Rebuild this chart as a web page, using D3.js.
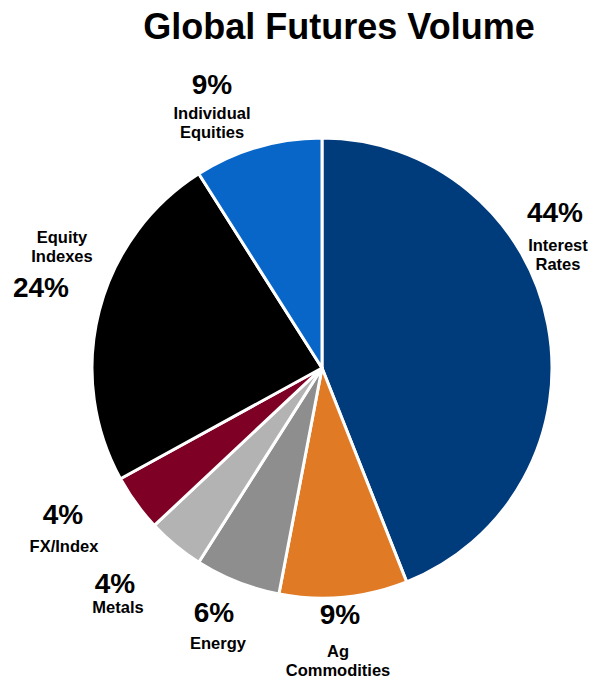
<!DOCTYPE html>
<html>
<head>
<meta charset="utf-8">
<script src="https://cdn.jsdelivr.net/npm/d3@7"></script>
<style>
  body { margin: 0; background: #fff; }
  text { font-family: "Liberation Sans", Arial, sans-serif; font-weight: bold; fill: #000; }
</style>
</head>
<body>
<div id="chart"></div>
<script>
const categories = ['Interest Rates', 'Ag Commodities', 'Energy', 'Metals', 'FX/Index', 'Equity Indexes', 'Individual Equities'];
const shares = [44, 9, 6, 4, 4, 24, 9];
const pctLabels = ['44%', '9%', '6%', '4%', '4%', '24%', '9%'];
const nameLines = [['Interest', 'Rates'], ['Ag', 'Commodities'], ['Energy'], ['Metals'], ['FX/Index'], ['Equity', 'Indexes'], ['Individual', 'Equities']];
const colors = ['#003b7c', '#e07a25', '#8e8e8e', '#b3b3b3', '#7e0025', '#000000', '#0766c8'];

// label placement (pct x/y, name x/first-line y)
const labelPos = [
  { px: 555, py: 222, nx: 558, ny: 251 },
  { px: 340, py: 624, nx: 338, ny: 657 },
  { px: 214, py: 622, nx: 218, ny: 649 },
  { px: 115, py: 593, nx: 118, ny: 613 },
  { px: 63, py: 524, nx: 64, ny: 552 },
  { px: 41, py: 297, nx: 62, ny: 243 },
  { px: 212, py: 94, nx: 212, ny: 119 }
];

const width = 599, height = 682;
const cx = 322, cy = 368, radius = 230;

const svg = d3.select('#chart').append('svg')
  .attr('width', width)
  .attr('height', height);

svg.append('text')
  .attr('x', 339)
  .attr('y', 39)
  .attr('text-anchor', 'middle')
  .attr('font-size', '36px')
  .text('Global Futures Volume');

const data = categories.map((c, i) => ({ name: c, value: shares[i], i }));

const pie = d3.pie().sort(null).value(d => d.value);
const arc = d3.arc().innerRadius(0).outerRadius(radius);

const g = svg.append('g').attr('transform', `translate(${cx},${cy})`);
g.selectAll('path')
  .data(pie(data))
  .join('path')
    .attr('d', arc)
    .attr('fill', d => colors[d.data.i])
    .attr('stroke', '#fff')
    .attr('stroke-width', 3)
    .attr('stroke-linejoin', 'round');

const labels = svg.append('g');
data.forEach((d, i) => {
  const p = labelPos[i];
  labels.append('text')
    .attr('x', p.px).attr('y', p.py)
    .attr('text-anchor', 'middle')
    .attr('font-size', '28px')
    .text(pctLabels[i]);
  nameLines[i].forEach((line, j) => {
    labels.append('text')
      .attr('x', p.nx).attr('y', p.ny + j * 19)
      .attr('text-anchor', 'middle')
      .attr('font-size', '16.5px')
      .text(line);
  });
});
</script>
</body>
</html>
